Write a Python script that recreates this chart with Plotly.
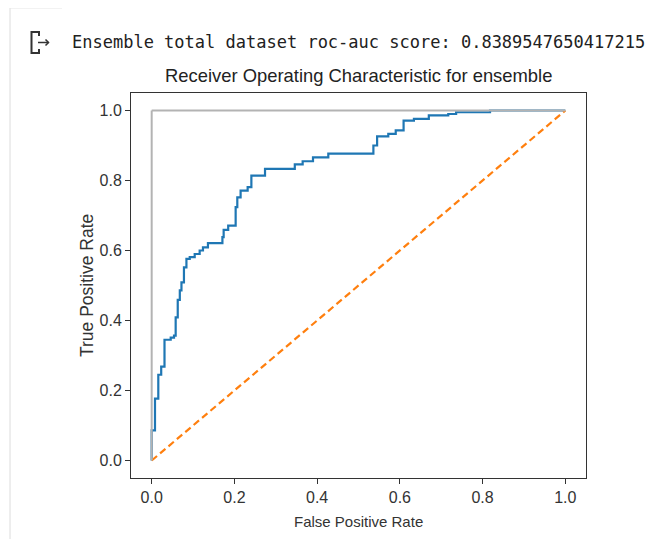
import plotly.graph_objects as go

# ROC curve step points (hv steps): at each fpr the tpr jumps to the value given
fpr = [0.0, 0.0, 0.008, 0.016, 0.023, 0.031, 0.046, 0.054, 0.058, 0.063, 0.068,
       0.072, 0.078, 0.084, 0.092, 0.104, 0.116, 0.124, 0.136, 0.171, 0.174,
       0.185, 0.203, 0.207, 0.215, 0.232, 0.241, 0.274, 0.346, 0.365, 0.390,
       0.427, 0.536, 0.545, 0.572, 0.590, 0.609, 0.634, 0.670, 0.717, 0.736,
       0.818, 1.0]
tpr = [0.0, 0.086, 0.177, 0.245, 0.268, 0.345, 0.351, 0.357, 0.409, 0.459, 0.486,
       0.509, 0.552, 0.576, 0.581, 0.590, 0.600, 0.609, 0.621, 0.638, 0.659,
       0.671, 0.724, 0.752, 0.771, 0.781, 0.814, 0.833, 0.846, 0.855, 0.866,
       0.877, 0.900, 0.926, 0.933, 0.943, 0.971, 0.976, 0.986, 0.990, 0.995,
       1.0, 1.0]

diag_x = [0, 1]
diag_y = [0, 1]
perfect_vx = [0, 0]
perfect_vy = [1, 0]
perfect_hx = [0, 1]
perfect_hy = [1, 1]

tick_vals = [0.0, 0.2, 0.4, 0.6, 0.8, 1.0]
tick_text = ["0.0", "0.2", "0.4", "0.6", "0.8", "1.0"]

header_text = "Ensemble total dataset roc-auc score: 0.8389547650417215"
title_text = "Receiver Operating Characteristic for ensemble"
x_label = "False Positive Rate"
y_label = "True Positive Rate"

# page body has an 8px margin; figure placed at page (8, 8)
OFF = 8
W, H = 655 - OFF, 539 - OFF
ML, MR, MT, MB = 131 - OFF, 69, 93 - OFF, 61
PW = W - ML - MR
PH = H - MT - MB


def px(x):
    """page pixel x -> paper coordinate"""
    return (x - OFF - ML) / PW


def py(y):
    """page pixel y -> paper coordinate"""
    return (H - MB - (y - OFF)) / PH


fig = go.Figure()
fig.add_trace(go.Scatter(x=fpr, y=tpr, mode="lines", line_shape="hv",
                         line=dict(color="#1f77b4", width=2.2)))
fig.add_trace(go.Scatter(x=diag_x, y=diag_y, mode="lines",
                         line=dict(color="#ff7f0e", width=2.2, dash="7px,4px")))
fig.add_trace(go.Scatter(x=perfect_vx, y=perfect_vy, mode="lines",
                         line=dict(color="#b3b3b3", width=2)))
fig.add_trace(go.Scatter(x=perfect_hx, y=perfect_hy, mode="lines",
                         line=dict(color="#b3b3b3", width=2)))

axis_common = dict(
    range=[-0.05, 1.05], showgrid=False, zeroline=False,
    showline=True, linecolor="#333333", linewidth=1, mirror=True,
    ticks="outside", ticklen=5, tickwidth=1, tickcolor="#333333",
    tickvals=tick_vals, ticktext=tick_text,
    tickfont=dict(family="Liberation Sans", size=16, color="#333333"),
)

fig.update_layout(
    width=W, height=H,
    margin=dict(l=ML, r=MR, t=MT, b=MB),
    paper_bgcolor="white", plot_bgcolor="white",
    showlegend=False,
    font=dict(family="Liberation Sans", color="#333333"),
    xaxis=axis_common,
    yaxis=axis_common,
)

annotations = [
    dict(text=header_text, x=px(70), y=py(42), xref="paper", yref="paper",
         xanchor="left", yanchor="middle", showarrow=False,
         font=dict(family="DejaVu Sans Mono", size=17, color="#212121")),
    dict(text=title_text, x=0.5, y=py(75), xref="paper", yref="paper",
         xanchor="center", yanchor="middle", showarrow=False,
         font=dict(family="Liberation Sans", size=18.4, color="#222222")),
    dict(text=x_label, x=0.5, y=py(521), xref="paper", yref="paper",
         xanchor="center", yanchor="middle", showarrow=False,
         font=dict(family="Liberation Sans", size=15, color="#333333")),
    dict(text=y_label, x=px(87), y=py(286), xref="paper", yref="paper",
         xanchor="center", yanchor="middle", showarrow=False, textangle=-90,
         font=dict(family="Liberation Sans", size=17.5, color="#333333")),
]
fig.update_layout(annotations=annotations)


def path(points):
    return "M " + " L ".join(f"{px(a)},{py(b)}" for a, b in points)


shapes = [
    # notebook cell border
    dict(type="line", xref="paper", yref="paper", x0=px(10), x1=px(10),
         y0=py(8), y1=py(539), line=dict(color="#dcdcdc", width=1)),
    dict(type="line", xref="paper", yref="paper", x0=px(10), x1=px(62),
         y0=py(8), y1=py(8), line=dict(color="#e6e6e6", width=1)),
    # output icon
    dict(type="path", xref="paper", yref="paper",
         path=path([(39, 36), (39, 32), (31.5, 32), (31.5, 53), (39, 53), (39, 49)]),
         line=dict(color="#333333", width=2)),
    dict(type="path", xref="paper", yref="paper",
         path=path([(38, 42.5), (48.5, 42.5)]),
         line=dict(color="#333333", width=1.5)),
    dict(type="path", xref="paper", yref="paper",
         path=path([(45.5, 39.5), (48.5, 42.5), (45.5, 45.5)]),
         line=dict(color="#333333", width=1.5)),
]
fig.update_layout(shapes=shapes)

fig.write_html("out.html")
